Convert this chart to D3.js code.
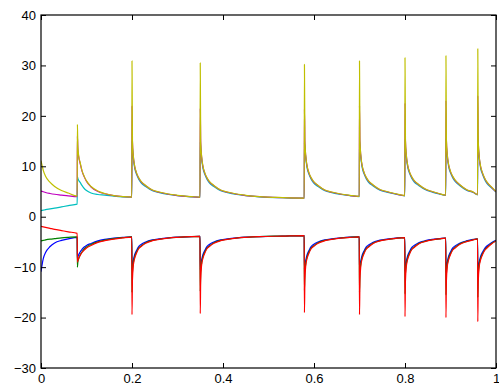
<!DOCTYPE html>
<html>
<head>
<meta charset="utf-8">
<script src="https://cdn.jsdelivr.net/npm/d3@7"></script>
<style>
  html, body { margin: 0; padding: 0; background: #fff; }
  svg { display: block; }
  .tick text { font-family: "Liberation Sans", Arial, Helvetica, sans-serif; font-size: 13px; fill: #000; }
</style>
</head>
<body>
<svg id="chart" width="499" height="391"></svg>
<script>
// ---- data ----
const xTicks = [0, 0.2, 0.4, 0.6, 0.8, 1];
const yTicks = [-30, -20, -10, 0, 10, 20, 30, 40];

const times = [
  0, 0.005, 0.01, 0.02, 0.03, 0.045, 0.06, 0.0795,
  0.08, 0.081, 0.083, 0.086, 0.09, 0.095, 0.1, 0.11, 0.125, 0.14, 0.16, 0.18, 0.1995,
  0.2, 0.201, 0.203, 0.206, 0.21, 0.215, 0.22, 0.23, 0.245, 0.26, 0.28, 0.3, 0.33, 0.3495,
  0.35, 0.351, 0.353, 0.356, 0.36, 0.365, 0.37, 0.38, 0.395, 0.41, 0.43, 0.45, 0.48, 0.53, 0.5785,
  0.579, 0.58, 0.582, 0.585, 0.589, 0.594, 0.599, 0.609, 0.624, 0.639, 0.659, 0.679, 0.6995,
  0.7, 0.701, 0.703, 0.706, 0.71, 0.715, 0.72, 0.73, 0.745, 0.76, 0.78, 0.7995,
  0.8, 0.801, 0.803, 0.806, 0.81, 0.815, 0.82, 0.83, 0.845, 0.86, 0.875, 0.8895,
  0.89, 0.891, 0.893, 0.896, 0.9, 0.905, 0.91, 0.92, 0.935, 0.95, 0.9595,
  0.96, 0.961, 0.963, 0.966, 0.97, 0.975, 0.98, 0.99, 1.0
];

const blueValues = [
  -10.9, -8.3, -7.1, -5.9, -5.2, -4.7, -4.4, -4.1,
  -8.5, -8.0, -7.5, -7.0, -6.5, -6.0, -5.7, -5.3, -4.8, -4.5, -4.25, -4.1, -4.0,
  -10.5, -9.5, -8.6, -7.5, -6.7, -5.9, -5.5, -5.0, -4.6, -4.4, -4.2, -4.05, -3.95, -3.88,
  -10.5, -9.5, -8.6, -7.5, -6.7, -5.9, -5.5, -5.0, -4.6, -4.4, -4.2, -4.05, -3.95, -3.85, -3.75,
  -10.4, -9.5, -8.6, -7.5, -6.7, -5.9, -5.5, -5.0, -4.6, -4.4, -4.2, -4.05, -3.98,
  -10.6, -9.6, -8.7, -7.6, -6.8, -6.0, -5.6, -5.05, -4.65, -4.45, -4.25, -4.12,
  -10.8, -9.7, -8.8, -7.7, -6.9, -6.1, -5.7, -5.15, -4.75, -4.5, -4.35, -4.22,
  -11.0, -9.8, -8.9, -7.8, -7.0, -6.2, -5.8, -5.25, -4.8, -4.5, -4.38,
  -11.4, -9.9, -9.0, -7.9, -7.1, -6.3, -5.8, -5.15, -4.7
];

const greenValues = [
  -4.8, -4.7, -4.6, -4.45, -4.35, -4.2, -4.1, -4.0,
  -10.0, -9.0, -8.3, -7.6, -7.0, -6.4, -6.0, -5.5, -5.0, -4.65, -4.35, -4.15, -4.0,
  -15.0, -11.0, -9.2, -7.9, -7.0, -6.2, -5.8, -5.15, -4.7, -4.47, -4.22, -4.08, -3.93, -3.89,
  -14.8, -11.0, -9.2, -7.9, -7.0, -6.2, -5.8, -5.15, -4.7, -4.47, -4.22, -4.08, -3.93, -3.84, -3.74,
  -14.6, -11.0, -9.2, -7.9, -7.0, -6.2, -5.8, -5.15, -4.7, -4.47, -4.22, -4.08, -3.99,
  -15.0, -11.1, -9.3, -8.0, -7.1, -6.3, -5.9, -5.2, -4.75, -4.52, -4.28, -4.14,
  -15.3, -11.2, -9.4, -8.1, -7.2, -6.4, -6.0, -5.3, -4.85, -4.57, -4.38, -4.24,
  -15.5, -11.3, -9.5, -8.2, -7.3, -6.5, -6.1, -5.4, -4.9, -4.57, -4.39,
  -16.0, -11.4, -9.6, -8.3, -7.4, -6.6, -6.1, -5.3, -4.76
];

const redValues = [
  -1.9, -2.0, -2.1, -2.3, -2.5, -2.75, -3.0, -3.3,
  -9.0, -8.7, -8.2, -7.7, -7.1, -6.6, -6.2, -5.7, -5.1, -4.75, -4.45, -4.2, -4.05,
  -19.4, -12.5, -9.6, -8.2, -7.2, -6.3, -5.9, -5.25, -4.75, -4.5, -4.25, -4.1, -3.95, -3.9,
  -19.2, -12.5, -9.6, -8.2, -7.2, -6.3, -5.9, -5.25, -4.75, -4.5, -4.25, -4.1, -3.95, -3.85, -3.75,
  -19.0, -12.5, -9.6, -8.2, -7.2, -6.3, -5.9, -5.25, -4.75, -4.5, -4.25, -4.1, -4.0,
  -19.4, -12.6, -9.7, -8.3, -7.3, -6.4, -6.0, -5.3, -4.8, -4.55, -4.3, -4.15,
  -19.8, -12.7, -9.8, -8.4, -7.4, -6.5, -6.1, -5.4, -4.9, -4.6, -4.4, -4.25,
  -20.0, -12.8, -9.9, -8.5, -7.5, -6.6, -6.2, -5.5, -4.95, -4.6, -4.4,
  -20.8, -12.9, -10.0, -8.6, -7.6, -6.7, -6.2, -5.4, -4.8
];

const cyanValues = [
  1.2, 1.3, 1.4, 1.55, 1.7, 1.95, 2.2, 2.5,
  8.0, 7.6, 7.2, 6.8, 6.2, 5.6, 5.2, 4.7, 4.4, 4.3, 4.1, 3.95, 3.88,
  15, 13.5, 11.5, 9.6, 8.4, 7.4, 6.7, 6.0, 5.15, 4.78, 4.42, 4.18, 3.95, 3.85,
  14.8, 13.5, 11.5, 9.6, 8.4, 7.4, 6.7, 6.0, 5.15, 4.78, 4.42, 4.18, 3.95, 3.77, 3.67,
  14.6, 13.5, 11.5, 9.6, 8.4, 7.4, 6.7, 6.0, 5.15, 4.78, 4.42, 4.18, 4.0,
  15, 13.6, 11.6, 9.7, 8.5, 7.5, 6.8, 6.1, 5.25, 4.88, 4.47, 4.15,
  15.3, 13.7, 11.7, 9.8, 8.6, 7.6, 6.9, 6.2, 5.35, 4.88, 4.52, 4.25,
  15.5, 13.8, 11.8, 9.9, 8.7, 7.7, 7.0, 6.2, 5.25, 4.8, 4.35,
  16, 13.8, 11.7, 9.7, 8.5, 7.4, 6.6, 5.75, 4.9
];

const magentaValues = [
  5.1, 4.95, 4.8, 4.6, 4.45, 4.3, 4.15, 4.0,
  16, 13.5, 11.8, 10.6, 9.1, 7.9, 7.0, 5.9, 5.0, 4.55, 4.2, 4.0, 3.9,
  22, 14.8, 11.9, 9.9, 8.6, 7.6, 6.9, 6.15, 5.25, 4.85, 4.45, 4.2, 3.97, 3.86,
  21.5, 14.8, 11.9, 9.9, 8.6, 7.6, 6.9, 6.15, 5.25, 4.85, 4.45, 4.2, 3.97, 3.78, 3.68,
  21.3, 14.8, 11.9, 9.9, 8.6, 7.6, 6.9, 6.15, 5.25, 4.85, 4.45, 4.2, 4.02,
  22, 14.9, 12.0, 10.0, 8.7, 7.7, 7.0, 6.25, 5.35, 4.95, 4.5, 4.17,
  22.5, 15.0, 12.1, 10.1, 8.8, 7.8, 7.1, 6.35, 5.45, 4.95, 4.55, 4.27,
  23, 15.1, 12.2, 10.2, 8.9, 7.9, 7.2, 6.35, 5.35, 4.85, 4.37,
  24, 15.0, 12.0, 10.0, 8.7, 7.6, 6.8, 5.85, 4.95
];

const yellowValues = [
  11.1, 9.2, 8.0, 6.8, 6.0, 5.2, 4.7, 4.1,
  18.3, 14, 12, 10.8, 9.2, 8.0, 7.1, 6.0, 5.1, 4.6, 4.2, 4.0, 3.9,
  30.9, 15, 12, 10, 8.7, 7.7, 7.0, 6.2, 5.3, 4.9, 4.5, 4.25, 4.0, 3.88,
  30.5, 15, 12, 10, 8.7, 7.7, 7.0, 6.2, 5.3, 4.9, 4.5, 4.25, 4.0, 3.8, 3.7,
  30.2, 15, 12, 10, 8.7, 7.7, 7.0, 6.2, 5.3, 4.9, 4.5, 4.25, 4.05,
  30.9, 15.1, 12.1, 10.1, 8.8, 7.8, 7.1, 6.3, 5.4, 5.0, 4.55, 4.2,
  31.5, 15.2, 12.2, 10.2, 8.9, 7.9, 7.2, 6.4, 5.5, 5.0, 4.6, 4.3,
  31.9, 15.3, 12.3, 10.3, 9.0, 8.0, 7.3, 6.4, 5.4, 4.9, 4.4,
  33.3, 15.2, 12.1, 10.1, 8.8, 7.7, 6.9, 5.9, 5.0
];

const seriesNames = ["blue", "green", "red", "cyan", "magenta", "yellow"];
const seriesColors = ["#0000ff", "#008000", "#ff0000", "#00bfbf", "#bf00bf", "#bfbf00"];
const seriesValues = [blueValues, greenValues, redValues, cyanValues, magentaValues, yellowValues];

// ---- layout ----
const W = 499, H = 391;
const margin = { left: 41, right: 3, top: 15, bottom: 23 };
const iw = W - margin.left - margin.right;
const ih = H - margin.top - margin.bottom;

const svg = d3.select("#chart");
const g = svg.append("g").attr("transform", `translate(${margin.left},${margin.top})`);

const x = d3.scaleLinear().domain([0, 1]).range([0, iw]);
const y = d3.scaleLinear().domain([-30, 40]).range([ih, 0]);

g.append("clipPath").attr("id", "clip")
  .append("rect").attr("x", 0).attr("y", 0).attr("width", iw).attr("height", ih);

const line = d3.line()
  .x(d => x(d[0]))
  .y(d => y(d[1]))
  .curve(d3.curveMonotoneX);

const plot = g.append("g").attr("clip-path", "url(#clip)");
seriesValues.forEach((vals, i) => {
  const pts = times.map((t, k) => [t, vals[k]]).filter(p => p[1] !== undefined);
  plot.append("path")
    .datum(pts)
    .attr("class", "series-" + seriesNames[i])
    .attr("fill", "none")
    .attr("stroke", seriesColors[i])
    .attr("stroke-width", 1.2)
    .attr("stroke-linejoin", "round")
    .attr("d", line);
});

const fmtX = d => d === 0 ? "0" : (d === 1 ? "1" : d3.format(".1f")(d));
const fmtY = d => d < 0 ? "\u2212" + Math.abs(d) : String(d);

const axStyle = sel => {
  sel.select(".domain").remove();
  sel.selectAll(".tick line").attr("stroke", "#000").attr("stroke-width", 1);
  sel.selectAll("text").attr("font-family", "'Liberation Sans', Arial, sans-serif").attr("font-size", 13);
};

g.append("g").attr("transform", `translate(0,${ih})`)
  .call(d3.axisBottom(x).tickValues(xTicks).tickFormat(fmtX).tickSizeInner(-5).tickSizeOuter(0).tickPadding(6))
  .call(axStyle);
g.append("g")
  .call(d3.axisTop(x).tickValues(xTicks).tickFormat("").tickSizeInner(-5).tickSizeOuter(0))
  .call(axStyle);
g.append("g")
  .call(d3.axisLeft(y).tickValues(yTicks).tickFormat(fmtY).tickSizeInner(-5).tickSizeOuter(0).tickPadding(5))
  .call(axStyle);
g.append("g").attr("transform", `translate(${iw},0)`)
  .call(d3.axisRight(y).tickValues(yTicks).tickFormat("").tickSizeInner(-5).tickSizeOuter(0))
  .call(axStyle);

g.append("rect")
  .attr("x", 0).attr("y", 0).attr("width", iw).attr("height", ih)
  .attr("fill", "none").attr("stroke", "#000").attr("stroke-width", 1.2);
</script>
</body>
</html>
